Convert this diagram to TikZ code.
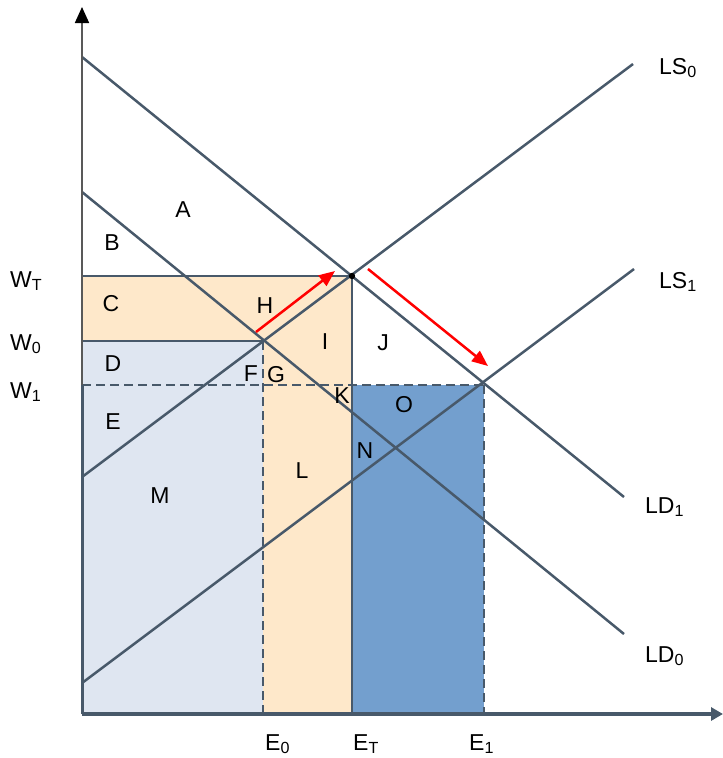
\documentclass[tikz,border=0pt]{standalone}
\usepackage{fontspec}
\setmainfont{Liberation Sans}
\usetikzlibrary{arrows.meta}
\definecolor{slate}{HTML}{48596A}
\definecolor{axgray}{HTML}{595959}
\definecolor{lblue}{HTML}{DFE6F1}
\definecolor{lorange}{HTML}{FEE8CA}
\definecolor{dblue}{HTML}{739FCE}
\definecolor{redarrow}{HTML}{FF0000}
\begin{document}
\begin{tikzpicture}[x=1pt,y=-1pt,
  curve/.style={draw=slate,line width=2.5pt},
  guide/.style={draw=slate,line width=2.5pt},
  dguide/.style={draw=slate,line width=2.5pt,dash pattern=on 9pt off 5pt},
  shiftarrow/.style={draw=redarrow,line width=2.5pt,-{Triangle[length=16pt,width=13pt]}},
  lbl/.style={inner sep=0pt,font=\fontsize{23}{27}\selectfont},
  blbl/.style={inner sep=0pt,anchor=base west,font=\fontsize{23}{27}\selectfont}]
\useasboundingbox (0,0) rectangle (723,758);
% key points
\coordinate (O) at (82,714);
\coordinate (Ytop) at (82,7);
\coordinate (Xend) at (723,714);
\coordinate (eT) at (352,276);
\coordinate (e0) at (263,341);
\coordinate (e1) at (484,385);
\coordinate (wT) at (82,276);
\coordinate (w0) at (82,341);
\coordinate (w1) at (82,385);
\coordinate (x0) at (263,714);
\coordinate (xT) at (352,714);
\coordinate (x1) at (484,714);
\coordinate (kT) at (352,385);
% fills
\fill[lblue] (w0) rectangle (x0);
\fill[lorange] (wT) -- (eT) -- (xT) -- (x0) -- (e0) -- (w0) -- cycle;
\fill[dblue] (kT) rectangle (x1);
% curve ends
\coordinate (ld1a) at (82,57);
\coordinate (ld1b) at (624,497);
\coordinate (ld0a) at (82,192);
\coordinate (ld0b) at (624,634);
\coordinate (ls0a) at (82,477);
\coordinate (ls0b) at (633,64);
\coordinate (ls1a) at (82,683);
\coordinate (ls1b) at (634,269);
% guides
\draw[guide] (wT) -- (eT);
\draw[guide] (w0) -- (e0);
\draw[dguide] (w1) -- (e1);
\draw[dguide] (e0) -- (x0);
\draw[guide] (eT) -- (xT);
\draw[dguide] (e1) -- (x1);
% curves
\draw[curve] (ld1a) -- (ld1b);
\draw[curve] (ld0a) -- (ld0b);
\draw[curve] (ls0a) -- (ls0b);
\draw[curve] (ls1a) -- (ls1b);
% axes
\draw[draw=axgray,line width=1.8pt,-{Triangle[length=16pt,width=14pt,color=black]}] (O) -- (Ytop);
\draw[draw=slate,line width=3.5pt,-{Triangle[length=12pt,width=13pt]}] (O) -- (Xend);
\draw[draw=slate,line width=3pt] (82,714) -- (82,385);
% equilibrium dot
\fill[black] (eT) circle (3.2pt);
% shift arrows
\coordinate (r1a) at (256,332);
\coordinate (r1b) at (335,271);
\coordinate (r2a) at (368,269);
\coordinate (r2b) at (488,366);
\draw[shiftarrow] (r1a) -- (r1b);
\draw[shiftarrow] (r2a) -- (r2b);
% area labels
\node[lbl] (A) at (183,210) {A};
\node[lbl] (B) at (112,243) {B};
\node[lbl] (C) at (111,304) {C};
\node[lbl] (D) at (113,364) {D};
\node[lbl] (E) at (113,422) {E};
\node[lbl] (F) at (251,374) {F};
\node[lbl] (G) at (276,375) {G};
\node[lbl] (H) at (265,306) {H};
\node[lbl] (I) at (325,342) {I};
\node[lbl] (J) at (383,343) {J};
\node[lbl] (K) at (342,396) {K};
\node[lbl] (L) at (302,471) {L};
\node[lbl] (M) at (160,496) {M};
\node[lbl] (N) at (365,451) {N};
\node[lbl] (Oo) at (404,405) {O};
% axis labels
\node[blbl] (WT) at (10,287) {W\textsubscript{T}};
\node[blbl] (W0) at (10,350) {W\textsubscript{0}};
\node[blbl] (W1) at (10,398) {W\textsubscript{1}};
\node[blbl] (E0) at (265,750) {E\textsubscript{0}};
\node[blbl] (ET) at (353,750) {E\textsubscript{T}};
\node[blbl] (E1) at (469,750) {E\textsubscript{1}};
\node[blbl] (LS0) at (659,74) {LS\textsubscript{0}};
\node[blbl] (LS1) at (659,288) {LS\textsubscript{1}};
\node[blbl] (LD1) at (645,513) {LD\textsubscript{1}};
\node[blbl] (LD0) at (645,662) {LD\textsubscript{0}};
\end{tikzpicture}
\end{document}
